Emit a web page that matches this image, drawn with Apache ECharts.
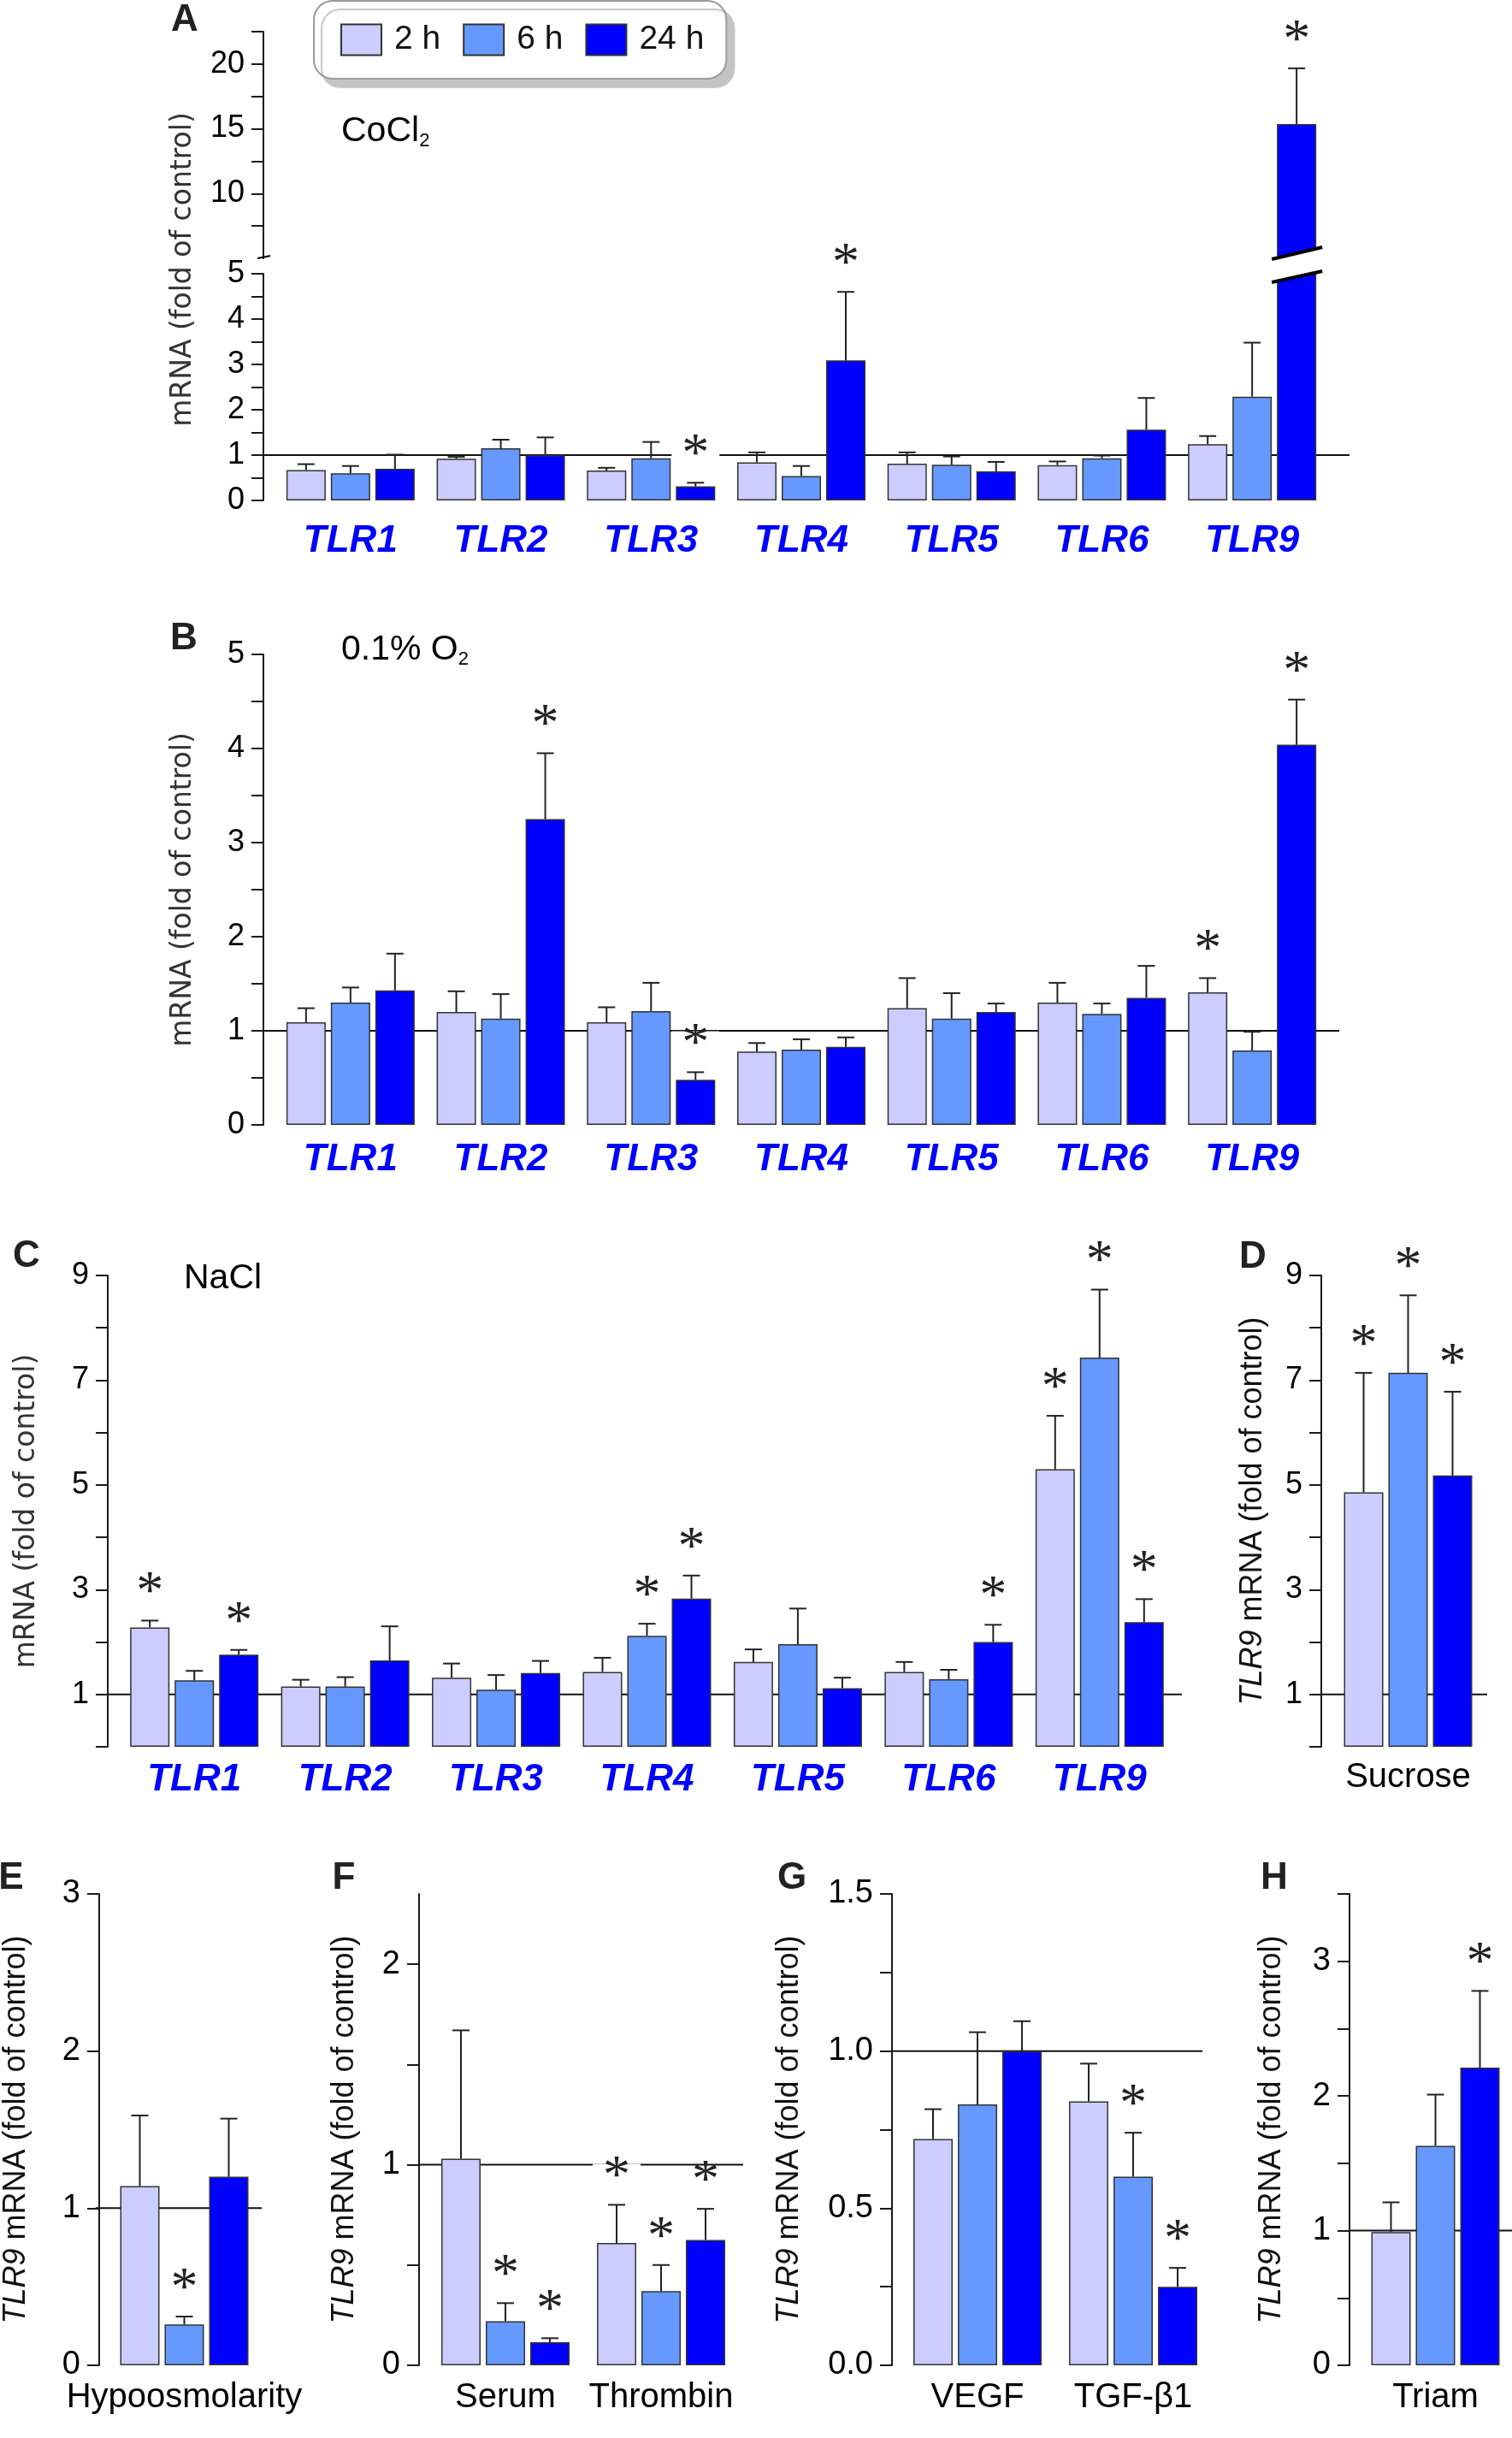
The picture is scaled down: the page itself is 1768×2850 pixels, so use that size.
<!DOCTYPE html>
<html>
<head>
<meta charset="utf-8">
<script src="https://cdn.jsdelivr.net/npm/echarts@6/dist/echarts.min.js"></script>
<style>
  html, body { margin: 0; background: #fff; }
  #chart { width: 1768px; height: 2850px; }
</style>
</head>
<body>
<div id="chart"></div>
<script>
// ---------------------------------------------------------------- data
var timeNames = ['2 h', '6 h', '24 h'];
var tlrGenes = ['TLR1', 'TLR2', 'TLR3', 'TLR4', 'TLR5', 'TLR6', 'TLR9'];
var controlLevel = 1;

// A: CoCl2
var cocl2Mean = [
  [0.67, 0.92, 0.66, 0.84, 0.81, 0.78, 1.24],
  [0.60, 1.15, 0.93, 0.54, 0.79, 0.93, 2.29],
  [0.70, 1.00, 0.31, 3.09, 0.64, 1.56, 15.37]
];
var cocl2Err = [
  [0.13, 0.04, 0.06, 0.22, 0.25, 0.08, 0.18],
  [0.16, 0.19, 0.36, 0.22, 0.18, 0.06, 1.19],
  [0.31, 0.39, 0.08, 1.51, 0.21, 0.70, 4.30]
];
var cocl2Star = [
  [0, 0, 0, 0, 0, 0, 0],
  [0, 0, 0, 0, 0, 0, 0],
  [0, 0, 1, 1, 0, 0, 1]
];

// B: 0.1% O2
var hypoxMean = [
  [1.09, 1.20, 1.09, 0.78, 1.24, 1.30, 1.41],
  [1.30, 1.13, 1.21, 0.80, 1.13, 1.18, 0.79],
  [1.43, 3.25, 0.48, 0.83, 1.20, 1.35, 4.04]
];
var hypoxErr = [
  [0.15, 0.22, 0.16, 0.09, 0.32, 0.21, 0.15],
  [0.16, 0.26, 0.30, 0.11, 0.27, 0.11, 0.20],
  [0.39, 0.70, 0.08, 0.10, 0.09, 0.34, 0.48]
];
var hypoxStar = [
  [0, 0, 0, 0, 0, 0, 1],
  [0, 0, 0, 0, 0, 0, 0],
  [0, 1, 1, 0, 0, 0, 1]
];

// C: NaCl
var naclMean = [
  [2.28, 1.15, 1.32, 1.43, 1.62, 1.43, 5.30],
  [1.27, 1.15, 1.09, 2.12, 1.96, 1.29, 7.43],
  [1.76, 1.65, 1.41, 2.83, 1.12, 2.00, 2.38]
];
var naclErr = [
  [0.13, 0.13, 0.27, 0.27, 0.24, 0.19, 1.02],
  [0.18, 0.18, 0.28, 0.23, 0.68, 0.18, 1.30],
  [0.09, 0.65, 0.23, 0.44, 0.20, 0.33, 0.44]
];
var naclStar = [
  [1, 0, 0, 0, 0, 0, 1],
  [0, 0, 0, 1, 0, 0, 1],
  [1, 0, 0, 1, 0, 1, 1]
];

// D: sucrose
var sucroseCats = ['Sucrose'];
var sucroseMean = [[4.86], [7.14], [5.18]];
var sucroseErr = [[2.28], [1.48], [1.60]];
var sucroseStar = [[1], [1], [1]];

// E: hypoosmolarity
var hypoCats = ['Hypoosmolarity'];
var hypoMean = [[1.14], [0.26], [1.20]];
var hypoErr = [[0.45], [0.05], [0.37]];
var hypoStar = [[0], [1], [0]];

// F: serum / thrombin
var serumCats = ['Serum', 'Thrombin'];
var serumMean = [[1.03, 0.61], [0.22, 0.37], [0.115, 0.625]];
var serumErr = [[0.64, 0.19], [0.09, 0.13], [0.02, 0.155]];
var serumStar = [[0, 1], [1, 1], [1, 1]];

// G: VEGF / TGF-beta1
var growthCats = ['VEGF', 'TGF-\u03b21'];
var growthMean = [[0.72, 0.84], [0.83, 0.60], [1.00, 0.25]];
var growthErr = [[0.095, 0.12], [0.23, 0.14], [0.095, 0.06]];
var growthStar = [[0, 0], [0, 1], [0, 1]];

// H: triamcinolone
var triamCats = ['Triam'];
var triamMean = [[0.99], [1.63], [2.21]];
var triamErr = [[0.22], [0.38], [0.57]];
var triamStar = [[0], [0], [1]];

// ---------------------------------------------------------------- style
var SANS = "'Liberation Sans', Arial, sans-serif";
var GOTHIC = "'DejaVu Sans', sans-serif";
var barColors = ['#ccccff', '#6699ff', '#0000ff'];
var barW = 46, gapPx = 6;
var slotStep = barW + gapPx;
var capHalf = 10;
var starLift = 31;
var axisColor = '#1a1a1a';

var chart = echarts.init(document.getElementById('chart'));

var grids = [], xAxes = [], yAxes = [], series = [];

function range(a, b, step) {
  var out = [];
  for (var v = a; v <= b + 1e-9; v += step) out.push(Math.round(v * 1000) / 1000);
  return out;
}

function errorRender(slot) {
  return function (params, api) {
    var base = api.coord([api.value(0), api.value(1)]);
    var tip = api.coord([api.value(0), api.value(1) + api.value(2)]);
    var x = base[0] + (slot - 1) * slotStep;
    var kids = [
      { type: 'line', shape: { x1: x, y1: base[1], x2: x, y2: tip[1] },
        style: { stroke: '#222', lineWidth: 2 } },
      { type: 'line', shape: { x1: x - capHalf, y1: tip[1], x2: x + capHalf, y2: tip[1] },
        style: { stroke: '#222', lineWidth: 2 } }
    ];
    if (api.value(3)) {
      kids.push({ type: 'text', x: x, y: tip[1] - starLift, z2: 5,
        style: { text: '*', fill: '#222', font: "64px 'Liberation Serif', serif",
                 lineHeight: 34, align: 'center', verticalAlign: 'middle',
                 backgroundColor: '#fff', padding: [0, 12] } });
    }
    return { type: 'group', children: kids };
  };
}

// one bar chart panel
function addPanel(p) {
  var gi = grids.length;
  grids.push({ left: p.left, top: p.top, width: p.width, height: p.height });
  xAxes.push({
    gridIndex: gi, type: 'category', data: p.cats,
    axisLine: { show: false }, axisTick: { show: false },
    axisLabel: p.catStyle ? Object.assign({ interval: 0, margin: p.catMargin }, p.catStyle) : { show: false }
  });
  var yAxis = {
    gridIndex: gi, type: 'value', min: p.min, max: p.max,
    offset: p.left - p.axisX,
    axisLine: { show: true, lineStyle: { color: axisColor, width: 2 } },
    axisTick: { show: true, length: 14, customValues: p.ticks, lineStyle: { color: axisColor, width: 2 } },
    axisLabel: { customValues: p.labels, margin: 22, fontFamily: SANS,
                 fontSize: p.tickSize, color: '#000', formatter: p.fmt },
    splitLine: { show: false }
  };
  if (p.name) {
    yAxis.name = p.name;
    yAxis.nameLocation = 'middle';
    yAxis.nameGap = p.nameGap;
    yAxis.nameTextStyle = p.nameStyle;
  }
  yAxes.push(yAxis);

  for (var k = 0; k < 3; k++) {
    var shown = p.means[k].map(function (v) { return p.keep(v) ? v : '-'; });
    series.push({
      type: 'bar', name: timeNames[k], xAxisIndex: gi, yAxisIndex: gi,
      data: p.clipBars ? p.means[k] : shown,
      barWidth: barW, barGap: (gapPx / barW * 100) + '%',
      itemStyle: { color: barColors[k], borderColor: '#333', borderWidth: 1.5 },
      emphasis: { disabled: true }, animation: false, z: 2
    });
    var errData = [];
    p.means[k].forEach(function (v, i) {
      if (p.keep(v)) errData.push([i, v, p.errs[k][i], p.stars[k][i]]);
    });
    series.push({
      type: 'custom', name: timeNames[k] + ' error', xAxisIndex: gi, yAxisIndex: gi,
      data: errData, renderItem: errorRender(k), z: 3, animation: false, silent: true
    });
  }
  return gi;
}

// horizontal control line (value 1) running from the y axis to its own end
function addControlLine(axisX, lineEnd, top, height, min, max) {
  var gi = grids.length;
  grids.push({ left: axisX, top: top, width: lineEnd - axisX, height: height });
  xAxes.push({ gridIndex: gi, type: 'category', data: ['', ''], boundaryGap: false, show: false });
  yAxes.push({ gridIndex: gi, type: 'value', min: min, max: max, show: false });
  series.push({
    type: 'line', xAxisIndex: gi, yAxisIndex: gi, data: [controlLevel, controlLevel],
    symbol: 'none', silent: true, animation: false, z: 1,
    lineStyle: { color: '#111', width: 2 }
  });
}

var tlrLabel = { color: '#0000ff', fontFamily: SANS, fontWeight: 'bold', fontStyle: 'italic', fontSize: 44 };
var condLabel = { color: '#000', fontFamily: SANS, fontSize: 40 };
var mrnaName = { fontFamily: GOTHIC, fontSize: 33, color: '#333' };
var tlr9Name = { fontFamily: SANS, fontSize: 36, color: '#111',
                 rich: { i: { fontFamily: SANS, fontSize: 36, fontStyle: 'italic', color: '#111' } } };
var tlr9Text = '{i|TLR9} mRNA (fold of control)';
var intFmt = function (v) { return String(v); };

// ---- A: CoCl2 with a broken axis (lower 0-5, upper 5-22.5)
var aLowerMax = 5;
var aLower = addPanel({
  cats: tlrGenes, means: cocl2Mean, errs: cocl2Err, stars: cocl2Star,
  keep: function (v) { return v <= aLowerMax; }, clipBars: true,
  axisX: 308, left: 322, width: 1230, top: 320, height: 265,
  min: 0, max: aLowerMax, ticks: range(0, 5, 0.5), labels: range(0, 5, 1), fmt: intFmt, tickSize: 36,
  catStyle: tlrLabel, catMargin: 26
});
addPanel({
  cats: tlrGenes, means: cocl2Mean, errs: cocl2Err, stars: cocl2Star,
  keep: function (v) { return v > aLowerMax; }, clipBars: false,
  axisX: 308, left: 322, width: 1230, top: 37, height: 265,
  min: aLowerMax, max: 22.5, ticks: range(7.5, 22.5, 2.5), labels: [10, 15, 20], fmt: intFmt, tickSize: 36
});
addControlLine(308, 1578, 320, 265, 0, aLowerMax);

// break marks on the TLR9 24 h bar and on the y axis
var breakData = [];
cocl2Mean[2].forEach(function (v, i) { if (v > aLowerMax) breakData.push([i, aLowerMax]); });
series.push({
  type: 'custom', xAxisIndex: aLower, yAxisIndex: aLower, data: breakData, z: 10,
  silent: true, animation: false,
  renderItem: function (params, api) {
    var p = api.coord([api.value(0), api.value(1)]);
    var cx = p[0] + slotStep, y = p[1];
    var l = cx - 29, r = cx + 30;
    var ax = params.coordSys.x - 14;
    return { type: 'group', children: [
      { type: 'polygon', shape: { points: [[l, y - 17], [r, y - 31], [r, y - 3], [l, y + 10]] },
        style: { fill: '#fff' } },
      { type: 'line', shape: { x1: l, y1: y - 17, x2: r, y2: y - 31 }, style: { stroke: '#000', lineWidth: 4 } },
      { type: 'line', shape: { x1: l, y1: y + 10, x2: r, y2: y - 3 }, style: { stroke: '#000', lineWidth: 4 } },
      { type: 'line', shape: { x1: ax - 7, y1: y - 18, x2: ax + 8, y2: y - 21 }, style: { stroke: '#000', lineWidth: 2 } }
    ] };
  }
});

// ---- B: 0.1% O2
addPanel({
  cats: tlrGenes, means: hypoxMean, errs: hypoxErr, stars: hypoxStar,
  keep: function () { return true; },
  axisX: 308, left: 322, width: 1230, top: 765, height: 550,
  min: 0, max: 5, ticks: range(0, 5, 0.5), labels: range(0, 5, 1), fmt: intFmt, tickSize: 36,
  catStyle: tlrLabel, catMargin: 19,
  name: 'mRNA (fold of control)', nameGap: 77, nameStyle: mrnaName
});
addControlLine(308, 1566, 765, 550, 0, 5);

// ---- C: NaCl
addPanel({
  cats: tlrGenes, means: naclMean, errs: naclErr, stars: naclStar,
  keep: function () { return true; },
  axisX: 126, left: 139, width: 1235, top: 1491, height: 551,
  min: 0, max: 9, ticks: range(0, 9, 1), labels: [1, 3, 5, 7, 9], fmt: intFmt, tickSize: 36,
  catStyle: tlrLabel, catMargin: 17,
  name: 'mRNA (fold of control)', nameGap: 78, nameStyle: mrnaName
});
addControlLine(126, 1382, 1491, 551, 0, 9);

// ---- D: sucrose
addPanel({
  cats: sucroseCats, means: sucroseMean, errs: sucroseErr, stars: sucroseStar,
  keep: function () { return true; },
  axisX: 1545, left: 1558, width: 177, top: 1491, height: 551,
  min: 0, max: 9, ticks: range(0, 9, 1), labels: [1, 3, 5, 7, 9], fmt: intFmt, tickSize: 36,
  catStyle: condLabel, catMargin: 16,
  name: tlr9Text, nameGap: 62, nameStyle: tlr9Name
});
addControlLine(1545, 1739, 1491, 551, 0, 9);

// ---- E: hypoosmolarity
addPanel({
  cats: hypoCats, means: hypoMean, errs: hypoErr, stars: hypoStar,
  keep: function () { return true; },
  axisX: 112, left: 125, width: 177, top: 2214, height: 551,
  min: 0, max: 3, ticks: range(0, 3, 1), labels: range(0, 3, 1), fmt: intFmt, tickSize: 38,
  catStyle: condLabel, catMargin: 18,
  name: tlr9Text, nameGap: 79, nameStyle: tlr9Name
});
addControlLine(112, 306, 2214, 551, 0, 3);

// ---- F: serum / thrombin
addPanel({
  cats: serumCats, means: serumMean, errs: serumErr, stars: serumStar,
  keep: function () { return true; },
  axisX: 490, left: 500, width: 364, top: 2214, height: 551,
  min: 0, max: 2.35, ticks: range(0, 2, 0.5), labels: [0, 1, 2], fmt: intFmt, tickSize: 38,
  catStyle: condLabel, catMargin: 18,
  name: tlr9Text, nameGap: 69, nameStyle: tlr9Name
});
addControlLine(490, 869, 2214, 551, 0, 2.35);

// ---- G: VEGF / TGF-beta1
addPanel({
  cats: growthCats, means: growthMean, errs: growthErr, stars: growthStar,
  keep: function () { return true; },
  axisX: 1043, left: 1052, width: 364, top: 2214, height: 551,
  min: 0, max: 1.5, ticks: range(0, 1.5, 0.25), labels: range(0, 1.5, 0.5),
  fmt: function (v) { return v.toFixed(1); }, tickSize: 38,
  catStyle: condLabel, catMargin: 18,
  name: tlr9Text, nameGap: 102, nameStyle: tlr9Name
});
addControlLine(1043, 1406, 2214, 551, 0, 1.5);

// ---- H: triamcinolone
addPanel({
  cats: triamCats, means: triamMean, errs: triamErr, stars: triamStar,
  keep: function () { return true; },
  axisX: 1578, left: 1590, width: 177, top: 2214, height: 551,
  min: 0, max: 3.5, ticks: range(0, 3.5, 0.5), labels: range(0, 3, 1), fmt: intFmt, tickSize: 38,
  catStyle: condLabel, catMargin: 18,
  name: tlr9Text, nameGap: 73, nameStyle: tlr9Name
});
addControlLine(1578, 1768, 2214, 551, 0, 3.5);

// ---------------------------------------------------------------- texts
function panelLetter(t, x, y) {
  return { type: 'text', x: x, y: y, z: 20,
    style: { text: t, font: "bold 44px " + SANS, fill: '#222', align: 'center', verticalAlign: 'middle' } };
}
var graphics = [
  panelLetter('A', 216, 24), panelLetter('B', 215, 747), panelLetter('C', 31, 1469),
  panelLetter('D', 1465, 1470), panelLetter('E', 13, 2196), panelLetter('F', 402, 2196),
  panelLetter('G', 926, 2196), panelLetter('H', 1490, 2196),
  { type: 'text', x: 214, y: 315, rotation: Math.PI / 2, z: 20,
    style: { text: 'mRNA (fold of control)', font: "33px " + GOTHIC, fill: '#333',
             align: 'center', verticalAlign: 'middle' } },
  { type: 'text', x: 399, y: 154, z: 20,
    style: { text: 'CoCl{s|2}', font: "41px " + SANS, fill: '#000', verticalAlign: 'middle',
             rich: { s: { fontSize: 22, fontFamily: SANS, padding: [22, 0, 0, 0] } } } },
  { type: 'text', x: 399, y: 760, z: 20,
    style: { text: '0.1% O{s|2}', font: "41px " + SANS, fill: '#000', verticalAlign: 'middle',
             rich: { s: { fontSize: 22, fontFamily: SANS, padding: [22, 0, 0, 0] } } } },
  { type: 'text', x: 215, y: 1495, z: 20,
    style: { text: 'NaCl', font: "41px " + SANS, fill: '#000', verticalAlign: 'middle' } }
];

chart.setOption({
  animation: false,
  backgroundColor: '#fff',
  grid: grids,
  xAxis: xAxes,
  yAxis: yAxes,
  legend: {
    data: timeNames, left: 367, top: 1, itemWidth: 47, itemHeight: 36, itemGap: 26,
    padding: [26, 26, 26, 31], backgroundColor: '#fff', borderColor: '#9a9a9a', borderWidth: 2,
    borderRadius: 22, shadowColor: '#c4c4c4', shadowBlur: 1, shadowOffsetX: 9, shadowOffsetY: 10,
    icon: 'rect', selectedMode: false,
    textStyle: { fontFamily: SANS, fontSize: 39, color: '#111', padding: [0, 0, 0, 10] }
  },
  graphic: graphics,
  series: series
});
</script>
</body>
</html>
